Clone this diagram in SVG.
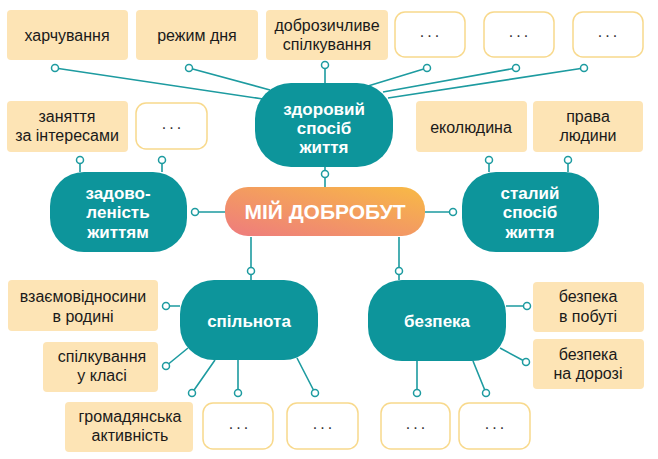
<svg xmlns="http://www.w3.org/2000/svg" width="658" height="459" viewBox="0 0 658 459">
<defs>
<linearGradient id="g" x1="0" y1="1" x2="1" y2="0">
<stop offset="0" stop-color="#ee7b7e"/>
<stop offset="1" stop-color="#f8ba45"/>
</linearGradient>
<style>
.y{fill:#fde4b5}
.e{fill:#fff;stroke:#f8d98c;stroke-width:1.5}
.t{fill:#0d959b}
.l{stroke:#1d9ba0;stroke-width:1.6;fill:none}
.d{fill:#fff;stroke:#1d9ba0;stroke-width:1.5}
.bt{font-family:"Liberation Sans",Arial,sans-serif;font-size:16px;fill:#1a1a1a;text-anchor:middle}
.wt{font-family:"Liberation Sans",Arial,sans-serif;font-size:17px;font-weight:bold;fill:#fff;text-anchor:middle}
.dots{font-family:"Liberation Sans",sans-serif;font-size:16px;fill:#333;text-anchor:middle;letter-spacing:3px}
</style>
</defs>
<rect width="658" height="459" fill="#fff"/>
<g id="connectors">
<path class="l" d="M55 68L263 99M189 68L270 90M325 65V84M427 68L368 86M516 68L383 92M584 68L388 98"/>
<path class="l" d="M80 160V172M162 160V172M489 160V172M568 160V172"/>
<path class="l" d="M325 167V187M195 212H225M425 212H453M251 237V271M251 271V280M399 237V271M399 271V280"/>
<path class="l" d="M166 306H180M166 366L188 348M192 393L215 360M238 393V360M315 393L297 358"/>
<path class="l" d="M506 306H527M500 348L526 362M417 393V361M486 393L473 361"/>
<g class="d">
<circle cx="55" cy="68" r="3.5"/><circle cx="189" cy="68" r="3.5"/><circle cx="325" cy="65" r="3.5"/>
<circle cx="427" cy="68" r="3.5"/><circle cx="516" cy="68" r="3.5"/><circle cx="584" cy="68" r="3.5"/>
<circle cx="80" cy="160" r="3.5"/><circle cx="162" cy="160" r="3.5"/><circle cx="489" cy="160" r="3.5"/><circle cx="568" cy="160" r="3.5"/>
<circle cx="325" cy="174" r="3.5"/><circle cx="195" cy="212" r="3.5"/><circle cx="453" cy="212" r="3.5"/>
<circle cx="251" cy="271" r="3.5"/><circle cx="399" cy="271" r="3.5"/>
<circle cx="166" cy="306" r="3.5"/><circle cx="166" cy="366" r="3.5"/><circle cx="192" cy="393" r="3.5"/><circle cx="238" cy="393" r="3.5"/><circle cx="315" cy="393" r="3.5"/>
<circle cx="527" cy="306" r="3.5"/><circle cx="526" cy="362" r="3.5"/><circle cx="417" cy="393" r="3.5"/><circle cx="486" cy="393" r="3.5"/>
</g>
</g>
<g id="center"><rect x="225" y="187" width="200" height="49" rx="23" fill="url(#g)"/><text x="325" y="219" class="wt" style="font-size:21px">МІЙ ДОБРОБУТ</text></g>
<g id="health"><rect class="t" x="255" y="83" width="138" height="84" rx="36"/><text class="wt" x="324" y="115">здоровий</text><text class="wt" x="324" y="134">спосіб</text><text class="wt" x="324" y="153">життя</text></g>
<g id="satisfaction"><rect class="t" x="50" y="172" width="137" height="80" rx="34"/><text class="wt" x="118" y="199">задово-</text><text class="wt" x="118" y="218">леність</text><text class="wt" x="118" y="238">життям</text></g>
<g id="sustainable"><rect class="t" x="462" y="172" width="137" height="80" rx="34"/><text class="wt" x="530" y="199">сталий</text><text class="wt" x="530" y="218">спосіб</text><text class="wt" x="530" y="238">життя</text></g>
<g id="community"><rect class="t" x="180" y="280" width="138" height="80" rx="34"/><text class="wt" x="249" y="327">спільнота</text></g>
<g id="safety"><rect class="t" x="368" y="280" width="138" height="81" rx="34"/><text class="wt" x="437" y="327">безпека</text></g>
<g id="n1"><rect class="y" x="7" y="10" width="121" height="50" rx="4"/><text class="bt" x="67" y="41">харчування</text></g>
<g id="n2"><rect class="y" x="136" y="10" width="122" height="50" rx="4"/><text class="bt" x="197" y="41">режим дня</text></g>
<g id="n3"><rect class="y" x="266" y="10" width="122" height="50" rx="4"/><text class="bt" x="327" y="31">доброзичливе</text><text class="bt" x="327" y="50">спілкування</text></g>
<g id="n4"><rect class="e" x="395" y="12" width="70" height="45" rx="10"/><text class="dots" x="431" y="37">...</text></g>
<g id="n5"><rect class="e" x="484" y="12" width="70" height="45" rx="10"/><text class="dots" x="520" y="37">...</text></g>
<g id="n6"><rect class="e" x="573" y="12" width="70" height="45" rx="10"/><text class="dots" x="609" y="37">...</text></g>
<g id="n7"><rect class="y" x="7" y="101" width="121" height="51" rx="4"/><text class="bt" x="67" y="122">заняття</text><text class="bt" x="67" y="141">за інтересами</text></g>
<g id="n8"><rect class="e" x="136" y="103" width="71" height="46" rx="10"/><text class="dots" x="173" y="129">...</text></g>
<g id="n9"><rect class="y" x="416" y="101" width="111" height="51" rx="4"/><text class="bt" x="471" y="133">еколюдина</text></g>
<g id="n10"><rect class="y" x="533" y="101" width="110" height="51" rx="4"/><text class="bt" x="588" y="122">права</text><text class="bt" x="588" y="141">людини</text></g>
<g id="n11"><rect class="y" x="8" y="280" width="150" height="51" rx="4"/><text class="bt" x="83" y="302">взаємовідносини</text><text class="bt" x="83" y="322">в родині</text></g>
<g id="n12"><rect class="y" x="43" y="342" width="115" height="50" rx="4"/><text class="bt" x="102" y="362">спілкування</text><text class="bt" x="102" y="381">у класі</text></g>
<g id="n13"><rect class="y" x="65" y="402" width="128" height="50" rx="4"/><text class="bt" x="130" y="422">громадянська</text><text class="bt" x="130" y="441">активність</text></g>
<g id="n14"><rect class="e" x="203" y="403" width="70" height="46" rx="10"/><text class="dots" x="240" y="429">...</text></g>
<g id="n15"><rect class="e" x="287" y="403" width="71" height="46" rx="10"/><text class="dots" x="324" y="429">...</text></g>
<g id="n16"><rect class="e" x="381" y="403" width="69" height="46" rx="10"/><text class="dots" x="417" y="429">...</text></g>
<g id="n17"><rect class="e" x="459" y="403" width="71" height="46" rx="10"/><text class="dots" x="496" y="429">...</text></g>
<g id="n18"><rect class="y" x="533" y="282" width="111" height="50" rx="4"/><text class="bt" x="588" y="302">безпека</text><text class="bt" x="588" y="322">в побуті</text></g>
<g id="n19"><rect class="y" x="533" y="339" width="111" height="50" rx="4"/><text class="bt" x="588" y="360">безпека</text><text class="bt" x="588" y="379">на дорозі</text></g>
</svg>
